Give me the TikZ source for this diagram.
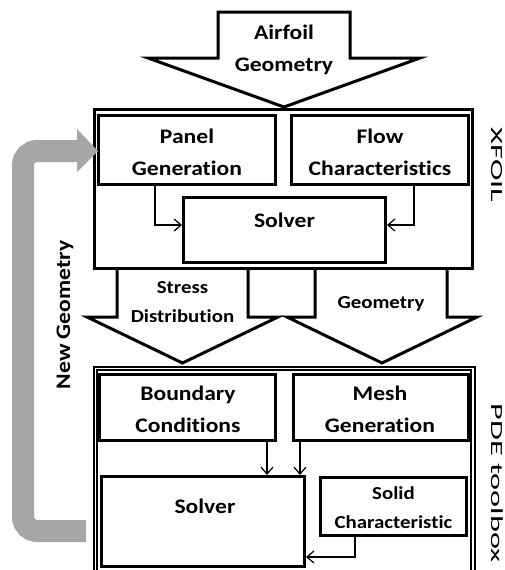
\documentclass[tikz,border=0pt]{standalone}
\usepackage{fontspec}
\usetikzlibrary{arrows.meta,calc}
\newfontfamily\lblfont{Carlito}[FakeStretch=1.14, Ligatures=NoCommon]
\newfontfamily\sidefont{Carlito}[FakeStretch=1.9, Ligatures=NoCommon]
\definecolor{loopgray}{HTML}{A6A6A6}
\begin{document}
\begin{tikzpicture}[x=1pt,y=-1pt,
  box/.style={draw, line width=3pt, rectangle, inner sep=0pt, fill=white},
  dbox/.style={draw, double, line width=1.7pt, double distance=1.7pt, rectangle, inner sep=0pt},
  big/.style={font=\lblfont\bfseries\fontsize{20.7}{32}\selectfont, align=center, inner sep=0pt},
  small/.style={font=\lblfont\bfseries\fontsize{18.3}{28.5}\selectfont, align=center, inner sep=0pt},
  conn/.style={line width=1.2pt, -{Straight Barb[length=7pt,width=12pt]}},
  blockarrow/.style={draw, line width=3pt, fill=white, line join=miter},
  side/.style={font=\sidefont\fontsize{17}{20}\selectfont, rotate=-90, inner sep=0pt}]
\useasboundingbox (0,0) rectangle (505,570);
\clip (0,0) rectangle (505,570);

% outer tool boxes
\node[box, minimum width=378pt, minimum height=159pt] (xfoil) at (283.5,189) {};
\node[dbox, minimum width=377.5pt, minimum height=271pt] (pde) at (284.25,504) {};

% XFOIL inner boxes
\node[box, minimum width=177pt, minimum height=69pt] (panel) at (187,150) {};
\node[box, minimum width=177pt, minimum height=69pt] (flow) at (380,150) {};
\node[box, minimum width=202pt, minimum height=65pt] (xsolver) at (284.5,230) {};

% PDE inner boxes
\node[box, minimum width=176pt, minimum height=66pt] (bc) at (187.5,407.5) {};
\node[box, minimum width=175pt, minimum height=66pt] (mesh) at (381,407.5) {};
\node[box, minimum width=203pt, minimum height=90pt] (psolver) at (203,521.5) {};
\node[box, minimum width=146pt, minimum height=58pt] (solid) at (393.5,506.5) {};

% block arrows
\draw[blockarrow] (218,12) -- (350,12) -- (350,58) -- (420,58) -- (284,107) -- (148,58) -- (218,58) -- cycle;
\draw[blockarrow] (117,270) -- (117,317) -- (87,317) -- (182.5,363) -- (278,317) -- (248,317) -- (248,270);
\draw[blockarrow] (315,270) -- (315,317) -- (287,317) -- (382,363) -- (477,317) -- (447,317) -- (447,270);

% labels (anchor=base is the baseline of the last line)
\node[big, anchor=base] (tairfoil) at (284,71) {Airfoil\\Geometry};
\node[big, anchor=base] (tpanel) at (187,175) {Panel\\Generation};
\node[big, anchor=base] (tflow) at (380,175) {Flow\\Characteristics};
\node[big, anchor=base] (txsolver) at (284.5,227) {Solver};
\node[small, anchor=base] (tstress) at (182.5,322) {Stress\\Distribution};
\node[small, anchor=base] (tgeom) at (381,308) {Geometry};
\node[big, anchor=base] (tbc) at (188,432) {Boundary\\Conditions};
\node[big, anchor=base] (tmesh) at (380,432) {Mesh\\Generation};
\node[big, anchor=base] (tpsolver) at (205,513) {Solver};
\node[small, anchor=base] (tsolid) at (393.5,528) {Solid\\Characteristic};
\node[big, rotate=90, font=\lblfont\bfseries\fontsize{20.7}{24}\selectfont] (tnew) at (65,315) {New Geometry};
\node[side] (txfoil) at (497,165) {XFOIL};
\node[side] (tpde) at (497,483) {PDE toolbox};

% connectors
\draw[conn] ([xshift=-32pt]panel.south) |- ([yshift=5pt]xsolver.west);
\draw[conn] ([xshift=34pt]flow.south) |- ([yshift=5pt]xsolver.east);
\draw[conn] ([xshift=79.5pt]bc.south) -- ([xshift=79.5pt]bc.south |- psolver.north);
\draw[conn] ([xshift=-81pt]mesh.south) -- ([xshift=-81pt]mesh.south |- psolver.north);
\draw[conn] ([xshift=-38.5pt]solid.south) |- ([yshift=-35.5pt]psolver.east);

% feedback loop
\coordinate (loopend) at (86,531);
\draw[loopgray, line width=22pt, rounded corners=14pt] (loopend) -- (23,531) -- (23,151) -- ($(panel.west)+(-18,1)$);
\fill[loopgray] ($(panel.west)+(-20,-21)$) -- ($(panel.west)+(1,1)$) -- ($(panel.west)+(-20,22)$) -- cycle;
\end{tikzpicture}
\end{document}
